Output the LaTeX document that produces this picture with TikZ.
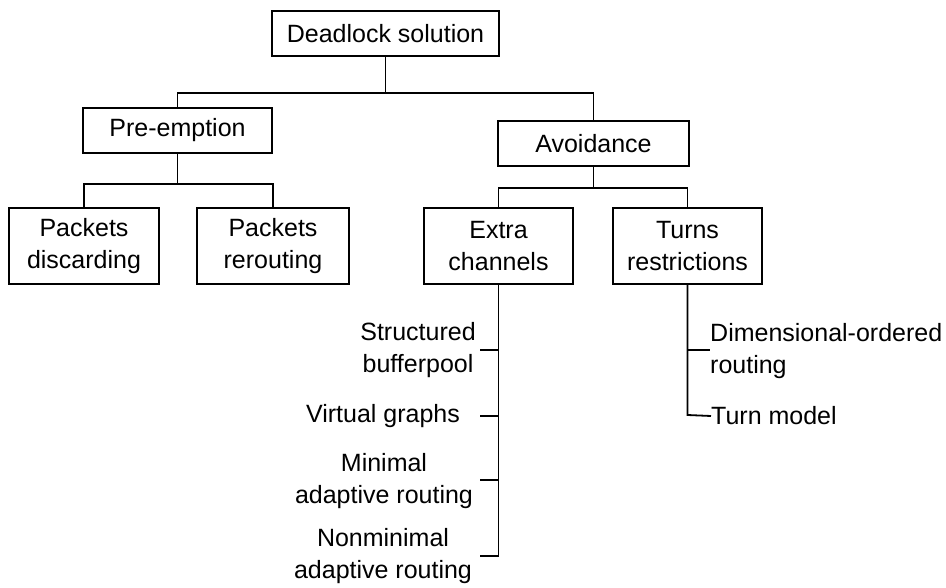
\documentclass[tikz,border=0pt]{standalone}
\usepackage{fontspec}
\setmainfont{Liberation Sans}
\begin{document}
\begin{tikzpicture}[x=1pt,y=-1pt,
  every node/.style={font=\fontsize{25}{32.5}\selectfont},
  box/.style={draw,line width=1.8pt,inner sep=0pt,align=center},
  leaf/.style={inner sep=0pt,align=center},
  link/.style={line width=1.8pt}]
\useasboundingbox (0,0) rectangle (946,588);

% boxes of the tree
\node[box,minimum width=227pt,minimum height=45pt] (dead) at (385.5,33.5) {Deadlock solution};
\node[box,minimum width=189pt,minimum height=45pt] (pre) at (177.5,130.5) {Pre-emption};
\node[box,minimum width=191pt,minimum height=45pt] (avoid) at (593.5,143.5) {Avoidance};
\node[box,minimum width=150pt,minimum height=76pt] (pd) at (84,246) {Packets\\discarding};
\node[box,minimum width=152pt,minimum height=76pt] (pr) at (273,246) {Packets\\rerouting};
\node[box,minimum width=149pt,minimum height=76pt] (ec) at (498.5,246) {Extra\\channels};
\node[box,minimum width=149pt,minimum height=76pt] (tr) at (687.5,246) {Turns\\restrictions};

% bus levels
\coordinate (busA) at (0,93);
\coordinate (busB) at (0,184);
\coordinate (busC) at (0,188);

\draw[link] (dead.south) -- (dead.south |- busA) -| (pre.north);
\draw[link] (dead.south |- busA) -| (avoid.north);
\draw[link] (pre.south) -- (pre.south |- busB) -| (pd.north);
\draw[link] (pre.south |- busB) -| (pr.north);
\draw[link] (avoid.south) -- (avoid.south |- busC) -| (ec.north);
\draw[link] (avoid.south |- busC) -| (tr.north);

% extra channels list
\node[leaf] (sb) at (418,350) {Structured\\bufferpool};
\node[leaf] (vg) at (383,416) {Virtual graphs};
\node[leaf] (ma) at (384,481) {Minimal\\adaptive routing};
\node[leaf] (na) at (383,556) {Nonminimal\\adaptive routing};

\coordinate (ecA) at (498.5,350);
\coordinate (ecB) at (498.5,416);
\coordinate (ecC) at (498.5,480);
\coordinate (ecD) at (498.5,556);
\draw[link] (ec.south) -- (ecD) -- ++(-19,0);
\draw[link] (ecA) -- ++(-19,0);
\draw[link] (ecB) -- ++(-19,0);
\draw[link] (ecC) -- ++(-19,0);

% turn restrictions list
\node[leaf,anchor=west,align=left] (dor) at (710,351) {Dimensional-ordered\\routing};
\node[leaf,anchor=west] (tm) at (711,416) {Turn model};

\coordinate (trA) at (687.5,350);
\coordinate (trB) at (687.5,415);
\draw[link] (tr.south) -- (trB) -- (tm.west);
\draw[link] (trA) -- (dor.west |- trA);
\end{tikzpicture}
\end{document}
